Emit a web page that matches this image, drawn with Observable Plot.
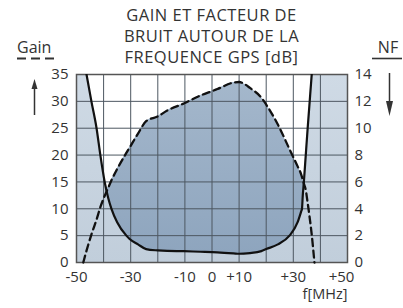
<!DOCTYPE html>
<html><head><meta charset="utf-8">
<script src="https://cdn.jsdelivr.net/npm/d3@7"></script>
<script src="https://cdn.jsdelivr.net/npm/@observablehq/plot@0.6"></script>
<style>
body{margin:0;background:#fff;}
#wrap{position:relative;width:403px;height:308px;}
</style></head><body><div id="wrap"></div>
<script>
// Data
const freqMHz = [-50, -48, -47.5, -46.3, -44.5, -42.6, -41.2, -39.6, -38.3, -37.1, -35, -31.6, -30.4, -27.3, -24.3, -20, -16.5, -10.4, -4.2, 0, 2, 8, 10, 11.7, 14, 18.2, 20, 24.3, 28.6, 31.6, 32.9, 33.2, 33.5, 33.9, 34.6, 35.3, 35.9, 36.8, 37.8, 40, 50];
const gainDb  = [null, null, 0, 2.2, 5.2, 8.0, 10.3, 12.4, 13.9, 15.3, 17.4, 20.4, 21.4, 24.0, 26.3, 27.2, 28.3, 29.6, 31.1, 31.9, 32.3, 33.5, 33.6, 33.3, 32.5, 30.7, 29.4, 25.7, 21.1, 17.9, 16.4, 15.9, 15.4, 14.7, 13.5, 11.1, 8.9, 5.2, 0, null, null];
const nfDb    = [19.5, 16.0, 15.4, 14.0, 12.0, 10.0, 8.0, 6.0, 4.8, 4.0, 3.0, 2.0, 1.75, 1.35, 1.0, 0.9, 0.86, 0.84, 0.8, 0.78, 0.76, 0.68, 0.65, 0.66, 0.7, 0.85, 1.0, 1.35, 2.0, 3.0, 3.8, 4.0, 5.0, 6.0, 8.0, 10.0, 11.6, 14.0, 16.5, 22, 30];

const gainTicks = [0, 5, 10, 15, 20, 25, 30, 35];
const nfTicks = [0, 2, 4, 6, 8, 10, 12, 14];
const freqTicks = [-50, -30, -10, 0, 10, 30];
const freqTicksEnd = [50];
const freqGrid = [-50, -40, -30, -20, -10, 0, 10, 20, 30, 40, 50];
const titleLines = ["GAIN ET FACTEUR DE", "BRUIT AUTOUR DE LA", "FREQUENCE GPS [dB]"];
const xLabel = "f[MHz]";
const gainLabel = "Gain";
const nfLabel = "NF";

const K = 35 / 14; // NF axis (0-14) shares the gain axis (0-35)
const rows = freqMHz.map((f, i) => ({f, gain: gainDb[i], nf: nfDb[i]}));
const topOfBoth = d => Math.min(Math.max(d.gain ?? 0, d.nf * K), 35);
const nfCapped = d => Math.min(d.nf * K, 35);
const curve = "monotone-x";
const ink = "#333";
const font = "'Open Sans', sans-serif";
const fmtF = d => d > 0 ? "+" + d : String(d);

const chart = Plot.plot({
  width: 403, height: 308,
  marginLeft: 76, marginRight: 56, marginTop: 74, marginBottom: 46,
  style: {fontFamily: font, fontSize: "15px", color: ink, background: "transparent", overflow: "visible"},
  x: {domain: [-50, 50]},
  y: {domain: [0, 35]},
  marks: [
    Plot.frame({fill: "url(#lightGrad)"}),
    Plot.areaY(rows, {x: "f", y1: topOfBoth, y2: 35, fill: "white", curve}),
    Plot.areaY(rows, {x: "f", y1: nfCapped, y2: topOfBoth, fill: "url(#darkGrad)", curve}),
    Plot.gridX(freqGrid, {stroke: "#4d5761", strokeOpacity: 1, strokeWidth: 1}),
    Plot.gridY(gainTicks, {stroke: "#4d5761", strokeOpacity: 1, strokeWidth: 1}),
    Plot.frame({stroke: "#555", strokeWidth: 1.5}),
    Plot.line(rows, {x: "f", y: "gain", stroke: "#111", strokeWidth: 2.3, strokeDasharray: "7,4.5", curve}),
    Plot.line(rows, {x: "f", y: d => d.nf * K, stroke: "#111", strokeWidth: 2.2, curve, clip: true}),
    Plot.axisX(freqTicks, {tickSize: 0, tickPadding: 9, label: null, fontSize: 15, tickFormat: fmtF}),
    Plot.axisX(freqTicksEnd, {tickSize: 0, tickPadding: 9, label: null, fontSize: 15, tickFormat: fmtF, dx: -6}),
    Plot.axisY(gainTicks, {anchor: "left", tickSize: 0, tickPadding: 8, label: null, fontSize: 15}),
    Plot.axisY(nfTicks.map(v => v * K), {anchor: "right", tickSize: 0, tickPadding: 7, label: null, fontSize: 15, tickFormat: d => String(Math.round(d / K))}),
    Plot.text([xLabel], {frameAnchor: "bottom-right", dy: 36.5, textAnchor: "end", fontSize: 14.5, fill: ink})
  ]
});

const svg = d3.select(chart);
const defs = svg.insert("defs", ":first-child");
const lg = defs.append("linearGradient").attr("id", "lightGrad").attr("x1", 0).attr("y1", 0).attr("x2", 0).attr("y2", 1);
lg.append("stop").attr("offset", 0).attr("stop-color", "#cfdae5");
lg.append("stop").attr("offset", 1).attr("stop-color", "#c1cedb");
const dg = defs.append("linearGradient").attr("id", "darkGrad").attr("x1", 0).attr("y1", 0).attr("x2", 0).attr("y2", 1);
dg.append("stop").attr("offset", 0).attr("stop-color", "#a5b8cc");
dg.append("stop").attr("offset", 1).attr("stop-color", "#8ea5be");

// Title and axis legends
const ann = svg.append("g").attr("font-family", font).attr("fill", ink).attr("text-anchor", "start");
ann.selectAll("text.t").data(titleLines).join("text")
  .attr("x", 211.5).attr("y", (d, i) => 20.8 + i * 21)
  .attr("text-anchor", "middle").attr("font-size", 16.5).attr("letter-spacing", 0.5).text(d => d);
ann.append("text").attr("x", 17).attr("y", 52.5).attr("text-anchor", "start").attr("font-size", 16).text(gainLabel);
ann.append("line").attr("x1", 17).attr("x2", 55).attr("y1", 58.5).attr("y2", 58.5)
  .attr("stroke", ink).attr("stroke-width", 2).attr("stroke-dasharray", "9,5");
ann.append("line").attr("x1", 34.5).attr("x2", 34.5).attr("y1", 115).attr("y2", 86).attr("stroke", ink).attr("stroke-width", 1.5);
ann.append("path").attr("d", "M31.5,89L37.5,89L34.5,79Z").attr("fill", ink);
ann.append("text").attr("x", 388).attr("y", 52.5).attr("text-anchor", "middle").attr("font-size", 16).text(nfLabel);
ann.append("line").attr("x1", 372).attr("x2", 402).attr("y1", 58.5).attr("y2", 58.5).attr("stroke", ink).attr("stroke-width", 1.6);
ann.append("line").attr("x1", 389.5).attr("x2", 389.5).attr("y1", 73).attr("y2", 104).attr("stroke", ink).attr("stroke-width", 1.5);
ann.append("path").attr("d", "M386,101L393,101L389.5,116Z").attr("fill", ink);

document.getElementById("wrap").appendChild(chart);
</script>
</body></html>
